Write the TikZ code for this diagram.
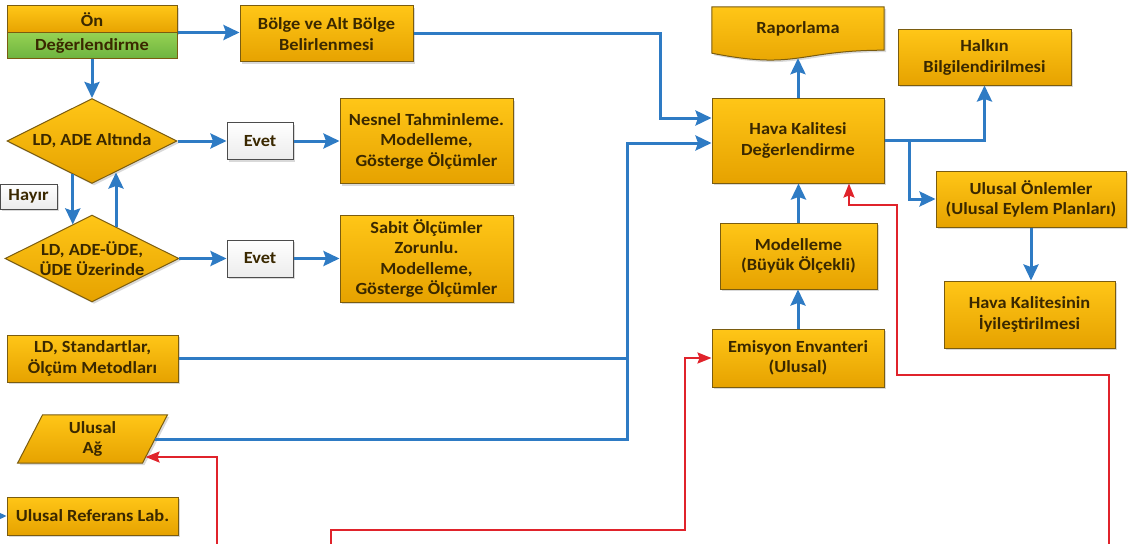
\documentclass[tikz,border=0pt]{standalone}
\usepackage{fontspec}
\newfontfamily\boxfont{Carlito}[FakeStretch=1.08]
\usetikzlibrary{shapes.geometric,arrows.meta,calc,shadows,backgrounds}
\definecolor{bl}{HTML}{2E7BC4}
\definecolor{rd}{HTML}{E0232B}
\definecolor{ortop}{HTML}{FFC617}
\definecolor{orbot}{HTML}{E6A200}
\definecolor{orline}{HTML}{7A5C10}
\definecolor{grtop}{HTML}{95D152}
\definecolor{grbot}{HTML}{6DB33F}
\definecolor{txt}{HTML}{3A2800}
\tikzset{
  base/.style={font=\boxfont\bfseries\fontsize{17}{20.5}\selectfont, text=txt, align=center, inner sep=0pt},
  shad/.style={drop shadow={shadow xshift=2pt,shadow yshift=-2pt,opacity=0.3}},
  obox/.style={base, draw=orline, line width=1pt, top color=ortop, bottom color=orbot, shad},
  gbox/.style={base, draw=orline, line width=1pt, top color=grtop, bottom color=grbot},
  oshape/.style={draw=orline, line width=1pt, top color=ortop, bottom color=orbot, shad},
  dbox/.style={obox, shape=diamond, aspect=2, minimum width=170pt, minimum height=85pt},
  ebox/.style={base, draw=gray!60!black, line width=1pt, top color=white, bottom color=gray!15, shad, minimum width=66pt, minimum height=37pt},
  barr/.style={draw=bl, line width=3pt, -{Stealth[length=16pt,width=15pt,inset=2.5pt]}},
  bline/.style={draw=bl, line width=3pt},
  rarr/.style={draw=rd, line width=2.2pt, -{Stealth[length=14pt,width=11pt,inset=2pt]}}
}
\begin{document}
\begin{tikzpicture}[x=1pt,y=-1pt]
\useasboundingbox (0,0) rectangle (1134,543);
% left column
\node[obox, minimum width=170pt, minimum height=27pt] (onT) at (92,19.5) {Ön};
\node[gbox, minimum width=170pt, minimum height=26pt] (onB) at (92,46) {Değerlendirme};
\node[obox, minimum width=173pt, minimum height=56pt] (bolge) at (326.5,34) {Bölge ve Alt Bölge\\Belirlenmesi};
\node[dbox] (d1) at (92,141) {LD, ADE Altında};
\node[ebox] (evet1) at (260,141) {Evet};
\node[obox, minimum width=173pt, minimum height=85pt] (nesnel) at (426.5,141) {Nesnel Tahminleme.\\Modelleme,\\Gösterge Ölçümler};
\node[ebox, minimum width=57pt, minimum height=25pt] (hayir) at (28.5,196.5) {Hayır};
\node[dbox] (d2) at (92,258.5) {LD, ADE-ÜDE,\\ÜDE Üzerinde};
\node[ebox] (evet2) at (260,258.5) {Evet};
\node[obox, minimum width=173pt, minimum height=87pt] (sabit) at (426.5,258.5) {Sabit Ölçümler\\Zorunlu.\\Modelleme,\\Gösterge Ölçümler};
\node[obox, minimum width=171pt, minimum height=47pt] (ldstd) at (92.5,358.5) {LD, Standartlar,\\Ölçüm Metodları};
\node[base, minimum width=124.5pt, minimum height=48pt] (ag) at (92.5,439) {Ulusal\\Ağ};
\node[obox, minimum width=171pt, minimum height=38pt] (reflab) at (92.5,516) {Ulusal Referans Lab.};
% right part
\node[base, minimum width=172pt, minimum height=43pt] (rap) at (798,28.5) {Raporlama};
\node[obox, minimum width=173pt, minimum height=55pt] (halk) at (984.5,57.5) {Halkın\\Bilgilendirilmesi};
\node[obox, minimum width=172pt, minimum height=85pt] (hava) at (798,140.5) {Hava Kalitesi\\Değerlendirme};
\node[obox, minimum width=190pt, minimum height=56pt] (onlem) at (1031,199) {Ulusal Önlemler\\(Ulusal Eylem Planları)};
\node[obox, minimum width=171pt, minimum height=67pt] (iyi) at (1029.5,314.5) {Hava Kalitesinin\\İyileştirilmesi};
\node[obox, minimum width=157pt, minimum height=66pt] (model) at (798.5,256) {Modelleme\\(Büyük Ölçekli)};
\node[obox, minimum width=172pt, minimum height=58pt] (emis) at (798,358) {Emisyon Envanteri\\(Ulusal)};
% special shapes behind text
\begin{pgfonlayer}{background}
\path[oshape] ($(ag.south west)+(-12.5,0)$) -- ($(ag.north west)+(12.5,0)$) -- ($(ag.north east)+(12.5,0)$) -- ($(ag.south east)+(-12.5,0)$) -- cycle;
\path[oshape] (rap.north west) -- (rap.north east) -- (rap.south east) .. controls (rap.south) and ($(rap.south)+(0,20)$) .. ($(rap.south west)+(0,3)$) -- cycle;
\end{pgfonlayer}
% coordinates
\coordinate (rapb) at ($(rap.south)+(0,8)$);
\coordinate (j1) at (660,118);
\coordinate (j2) at (627,143);
\coordinate (j3) at ($(hava.east)+(25,0)$);
\coordinate (rl) at (-12,516);
\coordinate (ra) at (1109,550);
\coordinate (rb) at (897,375);
\coordinate (rc) at (849,205);
\coordinate (rd) at (331,550);
\coordinate (re) at (685,530);
\coordinate (rf) at (217,550);
\coordinate (agin) at ($(ag.east)+(-9.4,18)$);
% blue connectors
\draw[barr] (onB.north east) -- (onB.north east -| bolge.west);
\draw[barr] (onB.south) -- (d1.north);
\draw[barr] (d1.east) -- (evet1.west);
\draw[barr] (evet1.east) -- (nesnel.west);
\draw[barr] (d2.east) -- (evet2.west);
\draw[barr] (evet2.east) -- (sabit.west);
\draw[barr] (d1.240) -- (d1.240 |- d2.120);
\draw[barr] (d2.53.4) -- (d2.53.4 |- d1.306.6);
\draw[barr] (bolge.east) -| (j1) -- (j1 -| hava.west);
\draw[barr] (ag.east) -| (j2) -- (j2 -| hava.west);
\draw[bline] (ldstd.east) -- (ldstd.east -| j2);
\draw[barr] (hava.north) -- (rapb);
\draw[barr] (hava.east) -| (halk.south);
\draw[barr] (j3) |- (onlem.west);
\draw[barr] (onlem.south) -- (onlem.south |- iyi.north);
\draw[barr] (model.north) -- (model.north |- hava.south);
\draw[barr] (emis.north) -- (emis.north |- model.south);
\draw[barr] (rl) -- (reflab.west);
% red connectors
\draw[rarr] (ra) |- (rb) |- (rc) -- (rc |- hava.south);
\draw[rarr] (rd) |- (re) |- (emis.west);
\draw[rarr] (rf) |- (agin);
\end{tikzpicture}
\end{document}
